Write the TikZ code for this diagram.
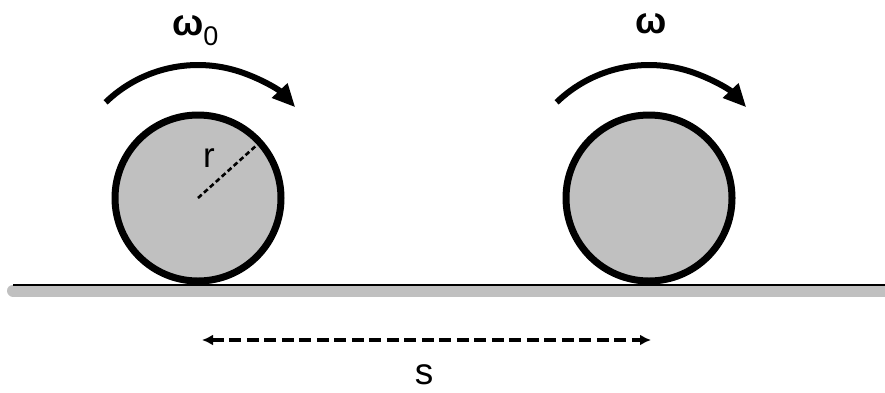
\documentclass[tikz,border=0pt]{standalone}
\usepackage{fontspec}
\setmainfont{Liberation Sans}
\usetikzlibrary{arrows.meta}
\definecolor{wheelgray}{RGB}{192,192,192}

\begin{document}
\begin{tikzpicture}[x=1pt, y=-1pt] %rolling wheels
			\tikzstyle{wheel} = [circle, draw, line width=7pt, minimum size=166pt, inner sep=0pt, fill=wheelgray]
			\tikzstyle{spin} = [line width=6pt, -{Triangle[length=23pt, width=20pt]}]
			\tikzstyle{radius line} = [line width=2.6pt, dash pattern=on 5pt off 3pt]
			\tikzstyle{span arrow} = [line width=4.2pt, dash pattern=on 12pt off 5.5pt, {Latex[length=11pt, width=11pt]}-{Latex[length=11pt, width=11pt]}]
			\tikzstyle{lbl} = [inner sep=0pt, font=\fontsize{37}{42}\selectfont]
			\useasboundingbox (0,0) rectangle (885,392);
			% ground
			\coordinate (G1) at (13,290.5);
			\coordinate (G2) at (890,290.5);
			\draw[wheelgray, line width=12pt, line cap=round] (G1) -- (G2);
			\draw[line width=2pt] (G1) ++(0,-5.5) -- ++(877,0);
			% wheels and their spin (y runs downwards, so angles are negative)
			\foreach \name/\x in {A/198, B/649}
			{
				\node[wheel] (\name) at (\x,198) {};
				\draw[spin] (\name.center) ++(-134:133) arc[start angle=-134, end angle=-43, radius=133];
			}
			\draw[radius line] (A.center) -- ++(-42:79);
			\node[lbl, anchor=base west, font=\fontsize{35}{40}\selectfont] (r) at (203,167) {r};
			\node[lbl, anchor=base west] (w0) at (172,35) {\bfseries ω\raisebox{-10pt}{\mdseries\fontsize{27}{27}\selectfont 0}};
			\node[lbl, anchor=base] (w) at (651,33) {\bfseries ω};
			% distance
			\coordinate (sL) at (202,340);
			\coordinate (sR) at (651,340);
			\draw[span arrow] (sL) -- (sR);
			\node[lbl, anchor=base] (s) at (424,384) {s};
\end{tikzpicture}
\end{document}
